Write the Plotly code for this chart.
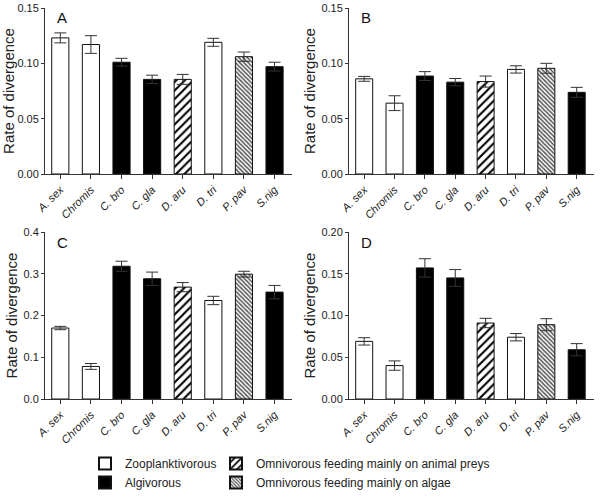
import plotly.graph_objects as go

species = ["A. sex", "Chromis", "C. bro", "C. gla", "D. aru", "D. tri", "P. pav", "S.nig"]
groups = ["Zooplanktivorous", "Zooplanktivorous", "Algivorous", "Algivorous",
          "Omnivorous feeding mainly on animal preys", "Zooplanktivorous",
          "Omnivorous feeding mainly on algae", "Algivorous"]

vals_A = [0.123, 0.117, 0.101, 0.0855, 0.0855, 0.119, 0.106, 0.097]
err_A = [0.0045, 0.008, 0.0035, 0.0038, 0.0045, 0.0036, 0.0042, 0.004]
vals_B = [0.086, 0.064, 0.0885, 0.083, 0.0835, 0.0945, 0.0955, 0.0738]
err_B = [0.0022, 0.0067, 0.004, 0.0033, 0.005, 0.0033, 0.0045, 0.0045]
vals_C = [0.170, 0.078, 0.318, 0.288, 0.268, 0.236, 0.299, 0.256]
err_C = [0.004, 0.007, 0.012, 0.016, 0.011, 0.010, 0.007, 0.016]
vals_D = [0.069, 0.040, 0.157, 0.145, 0.091, 0.074, 0.089, 0.059]
err_D = [0.0044, 0.0056, 0.011, 0.010, 0.0056, 0.0044, 0.0072, 0.0073]

panels = ["A", "B", "C", "D"]
y_max = [0.15, 0.15, 0.4, 0.20]
y_dtick = [0.05, 0.05, 0.1, 0.05]
y_fmt = [".2f", ".2f", ".1f", ".2f"]

legend_order = ["Zooplanktivorous", "Algivorous",
                "Omnivorous feeding mainly on animal preys",
                "Omnivorous feeding mainly on algae"]
style = {
    "Zooplanktivorous": dict(color="white", shape="", size=8, solidity=0.3, fg="black"),
    "Algivorous": dict(color="black", shape="", size=8, solidity=0.3, fg="black"),
    "Omnivorous feeding mainly on animal preys": dict(color="white", shape="/", size=6, solidity=0.35, fg="black"),
    "Omnivorous feeding mainly on algae": dict(color="white", shape="\\", size=3, solidity=0.5, fg="#555555"),
}

W, H = 600, 497


def px(x):
    return x / W


def py(y):
    return 1 - y / H


xdom = [(px(45), px(292)), (px(349), px(594))]
ydom = [(py(174), py(8)), (py(399), py(232))]

font = "Liberation Sans, Arial, sans-serif"
fig = go.Figure()
all_vals = [vals_A, vals_B, vals_C, vals_D]
all_err = [err_A, err_B, err_C, err_D]

layout = {}
annotations = []
for i, p in enumerate(panels):
    ax = "" if i == 0 else str(i + 1)
    for k, g in enumerate(legend_order):
        s = style[g]
        yv = [v if gg == g else None for v, gg in zip(all_vals[i], groups)]
        ev = [e if gg == g else 0 for e, gg in zip(all_err[i], groups)]
        if s["shape"]:
            pattern = dict(shape=s["shape"], fgcolor=s["fg"], bgcolor="white",
                           size=s["size"], solidity=s["solidity"], fillmode="replace")
        else:
            pattern = dict(shape="")
        fig.add_trace(go.Bar(
            x=species, y=yv, xaxis="x" + ax, yaxis="y" + ax,
            width=0.56, name=g, legendgroup=g, showlegend=(i == 0),
            legend="legend" if k < 2 else "legend2",
            marker=dict(color=s["color"], line=dict(color="#111", width=1), pattern=pattern),
            error_y=dict(type="data", array=ev, color="#333333", thickness=1, width=6),
        ))
    r, c = divmod(i, 2)
    layout["xaxis" + ax] = dict(
        domain=xdom[c], anchor="y" + ax, range=[-0.5, 7.57], type="category",
        showline=True, linecolor="#333", linewidth=1, ticks="outside", ticklen=4,
        tickcolor="#333", tickangle=-45, showgrid=False, automargin=False,
        tickfont=dict(family=font, size=11, color="#222", style="italic"),
    )
    layout["yaxis" + ax] = dict(
        domain=ydom[r], anchor="x" + ax, range=[0, y_max[i]], dtick=y_dtick[i],
        tickformat=y_fmt[i], showline=True, linecolor="#333", linewidth=1,
        ticks="outside", ticklen=3, tickcolor="#333", showgrid=False, zeroline=False,
        automargin=False, tickfont=dict(family=font, size=11, color="#222"),
        title=dict(text="Rate of divergence", font=dict(family=font, size=15, color="#222"),
                   standoff=2),
    )
    annotations.append(dict(
        text=p, xref="x" + ax + " domain", yref="y" + ax + " domain",
        x=0.04, y=0.94, xanchor="left", yanchor="middle", showarrow=False,
        font=dict(family=font, size=15, color="#111"),
    ))

leg_common = dict(orientation="v", bgcolor="rgba(0,0,0,0)", tracegroupgap=0,
                  itemsizing="constant", font=dict(family=font, size=12, color="#222"),
                  xanchor="left", yanchor="top", itemwidth=30, traceorder="normal")
fig.update_layout(
    width=W, height=H, margin=dict(l=0, r=0, t=0, b=0, autoexpand=False),
    paper_bgcolor="white", plot_bgcolor="white", barmode="overlay",
    annotations=annotations,
    legend=dict(x=px(85), y=py(449), **leg_common),
    legend2=dict(x=px(216), y=py(449), **leg_common),
    **layout,
)
# remove the browser's default 8px body margin so the figure fills the window
fig.write_html("out.html", config={"displayModeBar": False},
               post_script="document.body.style.margin='0';document.body.style.overflow='hidden';")
